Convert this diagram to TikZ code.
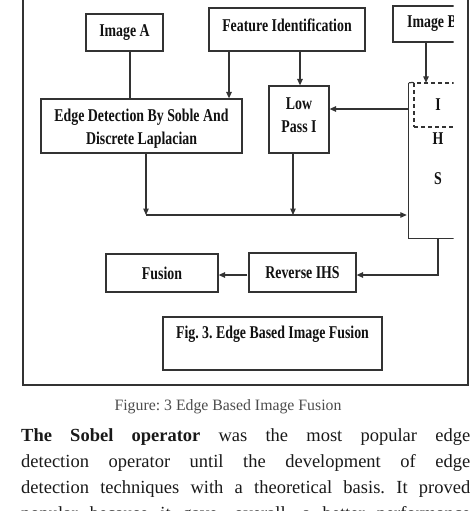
\documentclass[tikz,border=0pt]{standalone}
\usepackage{fontspec}
\setmainfont{Liberation Serif}
\newfontfamily\boxfont[FakeStretch=0.77]{Liberation Serif}
\usetikzlibrary{arrows.meta}
\definecolor{linec}{HTML}{333333}
\definecolor{textc}{HTML}{111111}
\frenchspacing
\begin{document}
\begin{tikzpicture}[x=1pt,y=-1pt,
  bfont/.style={font=\boxfont\bfseries\fontsize{18}{23}\selectfont, text=textc},
  box/.style={draw=linec, line width=1.2pt, inner sep=0pt, align=center, bfont},
  lbl/.style={bfont, inner sep=0pt},
  conn/.style={draw=linec, line width=1.2pt},
  arr/.style={conn, -{Triangle[length=6.5pt,width=5.5pt]}},
  ptext/.style={anchor=base west, inner sep=0pt, font=\fontsize{18.5}{26}\selectfont, text=black!90},
]
\clip (0,0) rectangle (471,511);

% outer frame
\draw[linec, line width=2pt] (22.5,-10) rectangle (468,385);

% boxes
\node[box, minimum width=77, minimum height=37] (imgA) at (124.5,32.5) {Image A};
\node[box, minimum width=156, minimum height=43,
      label={[lbl, yshift=4pt]center:Feature Identification}] (feat) at (287,29.5) {};
\node[box, minimum width=201, minimum height=54,
      label={[lbl, align=center, yshift=-2.5pt]center:Edge Detection By Soble And\\Discrete Laplacian}] (edge) at (141.5,126) {};
\node[box, minimum width=60, minimum height=67,
      label={[lbl, align=center, yshift=4.5pt]center:Low\\Pass I}] (low) at (299,119.5) {};

\begin{scope}
  \clip (380,0) rectangle (453.5,250);
  \node[box, minimum width=78, minimum height=36] (imgB) at (432,24) {Image B};
  \node[inner sep=0pt, minimum width=88, minimum height=155] (ihs) at (453,160.5) {};
  \draw[conn] (ihs.north west) -- (ihs.south west) -- (ihs.south east);
  \node[draw=linec, line width=1.2pt, dashed, dash pattern=on 4pt off 3pt, inner sep=0pt,
        minimum width=48, minimum height=44, bfont] (ihsI) at (438,105) {I};
  \draw[linec, line width=1.2pt, dash pattern=on 4pt off 3pt] (ihs.north west) -- (ihsI.north west);
\end{scope}
\node[lbl] (ihsH) at (438,139) {H};
\node[lbl] (ihsS) at (438,179) {S};

\node[box, minimum width=107, minimum height=39] (rev) at (302.5,272.5) {Reverse IHS};
\node[box, minimum width=112, minimum height=38] (fusion) at (162,273) {Fusion};
\node[box, minimum width=219, minimum height=53,
      label={[lbl, yshift=9.5pt]center:Fig. 3. Edge Based Image Fusion}] (fig) at (272.5,343.5) {};

% connectors
\draw[conn] ([xshift=5.5pt]imgA.south) coordinate (a1) -- (a1 |- edge.north);
\draw[arr] ([xshift=-58pt]feat.south) coordinate (f1) -- (f1 |- edge.north);
\draw[arr] ([xshift=13pt]feat.south) coordinate (f2) -- (f2 |- low.north);
\draw[arr] ([xshift=-6pt]imgB.south) coordinate (b1) -- (b1 |- ihs.north);
\coordinate (l1) at ([yshift=10.5pt]low.east);
\draw[arr] (l1 -| ihs.west) -- (l1);

\coordinate (busL) at (146,215);
\draw[arr] ([xshift=4.5pt]edge.south) coordinate (e1) -- (e1 |- busL);
\draw[arr] ([xshift=-6pt]low.south) coordinate (l2) -- (l2 |- busL);
\draw[arr] (busL) -- ([xshift=-2pt]busL -| ihs.west);

\coordinate (o1) at (ihs.south -| ihsS);
\coordinate (o2) at ([yshift=-2.5pt]rev.east);
\draw[arr] (o1) -- (o1 |- o2) -- (o2);
\draw[arr] ([xshift=-1pt]rev.west |- o2) -- (fusion.east |- o2);

% caption and text
\node[font=\fontsize{15.8}{19}\selectfont, text=black!70, inner sep=0pt] (cap) at (228,407) {Figure: 3 Edge Based Image Fusion};
\node[ptext] (p1) at (21,441) {\makebox[449pt][s]{\textbf{The Sobel operator} was the most popular edge}};
\node[ptext] (p2) at (21,467) {\makebox[449pt][s]{detection operator until the development of edge}};
\node[ptext] (p3) at (21,493) {\makebox[449pt][s]{detection techniques with a theoretical basis. It proved}};
\node[ptext] (p4) at (21,519) {\makebox[449pt][s]{popular because it gave, overall, a better performance}};
\end{tikzpicture}
\end{document}
